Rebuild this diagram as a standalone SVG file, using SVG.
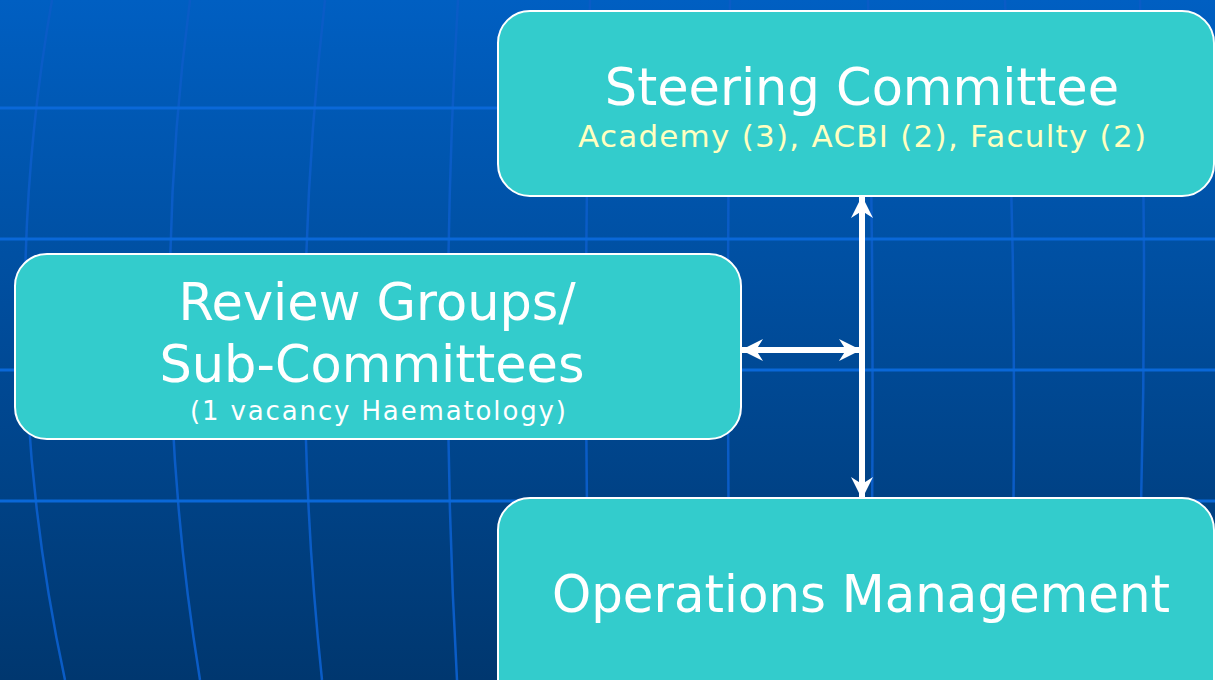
<svg xmlns="http://www.w3.org/2000/svg" width="1215" height="680" viewBox="0 0 1215 680">
  <defs>
    <linearGradient id="bg" x1="0" y1="0" x2="0" y2="1">
      <stop offset="0" stop-color="#005FC2"/>
      <stop offset="1" stop-color="#00376F"/>
    </linearGradient>
    <marker id="ah" viewBox="0 0 22 22" refX="21" refY="11" markerWidth="22" markerHeight="22" markerUnits="userSpaceOnUse" orient="auto-start-reverse">
      <path d="M0,0 L22,11 L0,22 L7,11 Z" fill="#FFFFFF"/>
    </marker>
    <style>
      .grid { stroke: #0A68D8; stroke-width: 3; fill: none; }
      .mer { stroke: #0A5CC6; stroke-width: 2.5; fill: none; }
      .box { fill: #33CCCC; stroke: #FFFFFF; stroke-width: 2; }
      .t { font-family: "DejaVu Sans", Verdana, sans-serif; fill: #FFFFFF; text-anchor: middle; }
      .big { font-size: 51px; }
      .sub { font-size: 31px; fill: #FFFFC0; }
      .small { font-size: 26px; }
      .conn { stroke: #FFFFFF; stroke-width: 6; fill: none; }
    </style>
  </defs>

  <g id="background">
    <rect x="0" y="0" width="1215" height="680" fill="url(#bg)"/>
    <path class="mer" d="M52,0 Q-8,340 65,680"/>
    <path class="mer" d="M190,0 Q145,340 200,680"/>
    <path class="mer" d="M325,0 Q286,340 322,680"/>
    <path class="mer" d="M458,0 Q438,340 457,680"/>
    <path class="mer" d="M590,0 Q582,340 590,680"/>
    <path class="mer" d="M730,0 Q726,340 730,680"/>
    <path class="mer" d="M868,0 Q876,340 870,680"/>
    <path class="mer" d="M1005,0 Q1020,340 1010,680"/>
    <path class="mer" d="M1140,0 Q1150,340 1135,680"/>
    <path class="grid" d="M0,108 H1215 M0,239 H1215 M0,370 H1215 M0,501 H1215"/>
  </g>

  <g id="connectors">
    <line class="conn" x1="862" y1="498" x2="862" y2="197" marker-end="url(#ah)" marker-start="url(#ah)"/>
    <line class="conn" x1="742" y1="350" x2="860" y2="350" marker-end="url(#ah)" marker-start="url(#ah)"/>
  </g>

  <g id="steering">
    <rect class="box" x="498" y="11" width="716" height="185" rx="32" ry="32"/>
    <text class="t big" x="862" y="105">Steering Committee</text>
    <text class="t sub" x="862" y="147" textLength="568" lengthAdjust="spacing">Academy (3), ACBI (2), Faculty (2)</text>
  </g>

  <g id="review">
    <rect class="box" x="15" y="254" width="726" height="185" rx="32" ry="32"/>
    <text class="t big" x="377" y="320">Review Groups/</text>
    <text class="t big" x="372" y="382">Sub-Committees</text>
    <text class="t small" x="378" y="420" textLength="376" lengthAdjust="spacing">(1 vacancy Haematology)</text>
  </g>

  <g id="operations">
    <rect class="box" x="498" y="498" width="716" height="215" rx="32" ry="32"/>
    <text class="t big" x="861" y="612" textLength="618" lengthAdjust="spacingAndGlyphs">Operations Management</text>
  </g>
</svg>
